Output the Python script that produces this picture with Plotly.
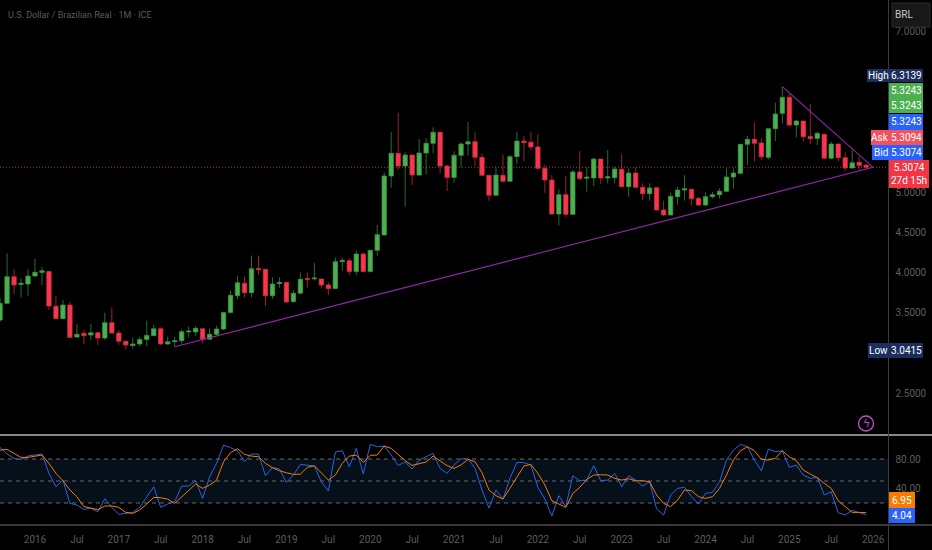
import plotly.graph_objects as go

W, H = 932, 550
AXIS_X = 888.5  # price scale starts here

# --- data. bars are months, 0 = Jan 2016 ---
bar_index = list(range(-5, 120))

opens = [
    3.408, 3.615, 3.947, 3.85, 3.856, 3.955, 4.0, 4.01, 3.58, 3.425, 3.594, 3.196,
    3.242, 3.221, 3.25, 3.184, 3.375, 3.246, 3.143, 3.09, 3.11, 3.167, 3.213, 3.30,
    3.11, 3.138, 3.15, 3.26, 3.26, 3.30, 3.17, 3.23, 3.296, 3.5, 3.71, 3.865,
    3.748, 4.05, 4.038, 3.71, 3.86, 3.875, 3.635, 3.74, 3.925, 3.92, 3.918, 3.843,
    3.80, 4.134, 4.146, 4.01, 4.229, 4.01, 4.275, 4.465, 5.199, 5.481, 5.323, 5.46,
    5.211, 5.485, 5.605, 5.742, 5.323, 5.182, 5.456, 5.597, 5.626, 5.431, 5.207, 4.959,
    5.207, 5.133, 5.44, 5.634, 5.62, 5.56, 5.294, 5.149, 4.726, 4.967, 4.722, 5.249,
    5.17, 5.175, 5.41, 5.174, 5.178, 5.282, 5.066, 5.236, 5.058, 4.979, 5.054, 4.776,
    4.714, 4.942, 5.025, 5.033, 4.92, 4.838, 4.942, 4.967, 5.008, 5.187, 5.232, 5.593,
    5.655, 5.609, 5.431, 5.788, 5.978, 6.177, 5.833, 5.883, 5.69, 5.667, 5.717, 5.42,
    5.597, 5.427, 5.299, 5.37, 5.335,
]
highs = [
    3.677, 4.237, 4.038, 3.926, 4.038, 4.167, 4.07, 4.02, 3.706, 3.657, 3.632, 3.358,
    3.284, 3.358, 3.25, 3.5, 3.565, 3.284, 3.15, 3.19, 3.2, 3.4, 3.346, 3.317,
    3.2, 3.2, 3.29, 3.325, 3.333, 3.30, 3.305, 3.337, 3.51, 3.77, 3.96, 3.947,
    4.21, 4.21, 4.04, 3.94, 3.94, 3.885, 3.78, 4.0, 4.0, 4.12, 3.92, 3.876,
    4.187, 4.18, 4.18, 4.27, 4.25, 4.28, 4.59, 5.245, 5.746, 5.987, 5.493, 5.46,
    5.659, 5.667, 5.804, 5.754, 5.336, 5.506, 5.618, 5.871, 5.742, 5.481, 5.21, 5.307,
    5.468, 5.46, 5.75, 5.696, 5.746, 5.717, 5.34, 5.21, 5.04, 5.203, 5.274, 5.51,
    5.307, 5.42, 5.41, 5.522, 5.315, 5.473, 5.294, 5.307, 5.108, 5.108, 5.054, 4.892,
    4.99, 5.066, 5.211, 5.04, 4.94, 4.996, 5.0, 5.045, 5.294, 5.294, 5.593, 5.696,
    5.866, 5.667, 5.79, 6.11, 6.3139, 6.22, 5.895, 5.883, 6.095, 5.75, 5.717, 5.626,
    5.6, 5.493, 5.522, 5.44, 5.345,
]
lows = [
    3.387, 3.61, 3.731, 3.69, 3.71, 3.95, 3.843, 3.532, 3.42, 3.42, 3.19, 3.19,
    3.11, 3.16, 3.097, 3.16, 3.24, 3.10, 3.0415, 3.055, 3.076, 3.085, 3.21, 3.10,
    3.10, 3.076, 3.118, 3.19, 3.21, 3.118, 3.16, 3.21, 3.28, 3.49, 3.665, 3.69,
    3.69, 3.964, 3.582, 3.673, 3.81, 3.628, 3.63, 3.73, 3.81, 3.9, 3.80, 3.72,
    3.795, 4.02, 3.968, 3.968, 4.0, 4.0, 4.208, 4.46, 5.054, 5.274, 4.818, 5.087,
    5.2, 5.22, 5.481, 5.232, 5.012, 5.116, 5.307, 5.452, 5.323, 5.2, 4.892, 4.955,
    5.116, 5.13, 5.348, 5.386, 5.52, 5.28, 4.99, 4.72, 4.58, 4.69, 4.72, 5.15,
    5.004, 5.075, 5.10, 5.108, 5.108, 5.06, 4.942, 5.05, 4.9, 4.892, 4.77, 4.705,
    4.71, 4.842, 4.892, 4.83, 4.826, 4.83, 4.92, 4.92, 5.0, 5.04, 5.224, 5.336,
    5.377, 5.4, 5.406, 5.634, 5.854, 5.812, 5.68, 5.626, 5.597, 5.585, 5.415, 5.406,
    5.38, 5.26, 5.29, 5.27, 5.29,
]
closes = [
    3.615, 3.947, 3.843, 3.865, 3.955, 4.001, 4.02, 3.582, 3.425, 3.594, 3.192, 3.23,
    3.213, 3.25, 3.184, 3.375, 3.246, 3.143, 3.097, 3.11, 3.167, 3.217, 3.30, 3.11,
    3.138, 3.15, 3.263, 3.27, 3.305, 3.17, 3.23, 3.296, 3.50, 3.715, 3.872, 3.748,
    4.046, 4.034, 3.71, 3.856, 3.876, 3.632, 3.74, 3.914, 3.915, 3.93, 3.843, 3.80,
    4.134, 4.15, 4.01, 4.229, 4.01, 4.275, 4.47, 5.199, 5.481, 5.323, 5.46, 5.211,
    5.485, 5.605, 5.742, 5.323, 5.182, 5.456, 5.597, 5.626, 5.431, 5.207, 4.959, 5.211,
    5.133, 5.44, 5.634, 5.614, 5.56, 5.294, 5.149, 4.726, 4.967, 4.722, 5.249, 5.166,
    5.185, 5.41, 5.174, 5.19, 5.286, 5.066, 5.236, 5.058, 4.979, 5.05, 4.776, 4.714,
    4.946, 5.025, 5.04, 4.917, 4.838, 4.942, 4.967, 5.008, 5.187, 5.236, 5.593, 5.655,
    5.605, 5.44, 5.788, 5.97, 6.177, 5.833, 5.883, 5.688, 5.663, 5.73, 5.42, 5.597,
    5.427, 5.299, 5.365, 5.33, 5.3074,
]

stoch_k = [
    95.9, 86.8, 80.9, 79.5, 84.1, 85.9, 86.8, 60.4, 42.2, 51.3, 19.5, 17.2,
    11.3, 12.7, 8.1, 25.9, 14.1, 4.5, 5.9, 7.2, 14.1, 28.6, 42.2, 14.1,
    18.6, 21.8, 43.1, 43.1, 50.4, 26.3, 55.9, 74.0, 99.0, 95.4, 91.3, 76.3,
    86.8, 86.8, 57.2, 68.6, 66.3, 48.1, 58.1, 72.7, 71.8, 70.4, 49.0, 36.3,
    89.5, 91.3, 69.5, 94.5, 59.5, 100, 96.8, 97.7, 85.4, 71.3, 75.9, 66.3,
    78.6, 83.1, 87.7, 67.2, 60.4, 71.8, 80.4, 80.0, 67.2, 37.7, 13.1, 37.7,
    25.4, 53.6, 75.4, 75.0, 71.8, 41.3, 25.4, 2.2, 30.0, 15.0, 57.2, 50.4,
    51.3, 70.9, 50.4, 51.3, 60.4, 42.2, 57.2, 51.3, 43.1, 49.0, 11.8, 3.6,
    30.9, 40.0, 41.3, 28.6, 18.6, 33.1, 34.5, 49.0, 78.6, 92.2, 100, 96.8,
    78.6, 64.0, 93.6, 90.0, 91.3, 68.6, 71.8, 58.1, 53.6, 54.9, 30.9, 35.4,
    6.8, 3.6, 10.0, 6.8, 4.04,
]
stoch_d = [
    92.2, 93.1, 87.7, 82.2, 82.2, 84.0, 85.4, 74.0, 60.4, 50.4, 37.7, 28.6,
    15.0, 13.1, 10.9, 15.9, 15.9, 14.1, 7.2, 5.9, 10.4, 18.6, 27.7, 27.2,
    25.4, 19.5, 28.6, 37.7, 45.9, 40.0, 44.5, 51.3, 76.3, 88.6, 94.0, 86.3,
    84.0, 83.1, 74.0, 68.1, 64.0, 61.3, 59.0, 59.5, 68.6, 70.9, 61.3, 51.3,
    58.1, 74.0, 84.0, 85.4, 75.4, 85.0, 85.4, 97.7, 94.5, 85.4, 77.7, 71.3,
    74.0, 75.9, 84.0, 77.7, 70.9, 67.2, 71.8, 79.5, 76.3, 61.3, 37.7, 30.0,
    25.4, 40.0, 55.9, 70.4, 72.7, 60.4, 44.5, 23.1, 18.6, 14.1, 33.1, 41.3,
    52.2, 58.1, 58.6, 58.1, 53.6, 51.3, 53.1, 50.4, 50.4, 49.0, 30.9, 19.5,
    15.0, 24.0, 37.7, 36.8, 28.6, 26.3, 28.6, 40.0, 58.1, 78.6, 91.3, 96.8,
    91.3, 79.5, 78.6, 80.9, 91.3, 83.1, 77.7, 65.0, 59.5, 54.5, 46.8, 40.0,
    23.1, 15.0, 7.2, 7.2, 6.95,
]

# trendlines drawn on the chart
support_x = [20, 120]
support_y = [3.076, 5.307]
resistance_x = [107, 120]
resistance_y = [6.31, 5.307]

last_price = 5.3074

time_ticks = [0, 6, 12, 18, 24, 30, 36, 42, 48, 54, 60, 66, 72, 78, 84, 90, 96, 102, 108, 114, 120]
time_labels = ["2016", "Jul", "2017", "Jul", "2018", "Jul", "2019", "Jul", "2020", "Jul", "2021",
               "Jul", "2022", "Jul", "2023", "Jul", "2024", "Jul", "2025", "Jul", "2026"]
price_ticks = [2.5, 3.5, 4.0, 4.5, 5.0, 7.0]
stoch_ticks = [40, 80]

FONT = "Roboto"
GRAY = "#5e5e5e"
GREEN = "#4caf50"
RED = "#f7374f"
BLUE = "#2962ff"
NAVY = "#1b2f5e"
ORANGE = "#f57c00"
PURPLE = "#9127a6"


def px(x):
    return x / W


def py(y):
    return 1 - y / H


fig = go.Figure()

# --- candles ---
fig.add_trace(go.Candlestick(
    x=bar_index, open=opens, high=highs, low=lows, close=closes,
    increasing=dict(line=dict(color="#3f9a44", width=0.7), fillcolor=GREEN),
    decreasing=dict(line=dict(color="#d8323f", width=0.7), fillcolor=RED),
    whiskerwidth=0,
    showlegend=False,
    xaxis="x", yaxis="y",
))

# --- trendlines ---
for tx, ty in ((support_x, support_y), (resistance_x, resistance_y)):
    fig.add_trace(go.Scatter(
        x=tx, y=ty, mode="lines",
        line=dict(color=PURPLE, width=1.1),
        showlegend=False, hoverinfo="skip",
        xaxis="x", yaxis="y",
    ))

# --- stochastic pane ---
fig.add_trace(go.Scatter(
    x=bar_index, y=stoch_k, mode="lines", line=dict(color="#2f63e0", width=1),
    showlegend=False, xaxis="x2", yaxis="y2",
))
fig.add_trace(go.Scatter(
    x=bar_index, y=stoch_d, mode="lines", line=dict(color=ORANGE, width=1),
    showlegend=False, xaxis="x2", yaxis="y2",
))

shapes = [
    # stochastic band and levels
    dict(type="rect", xref="paper", yref="y2", x0=0, x1=px(AXIS_X), y0=20, y1=80,
         fillcolor="#05101a", line_width=0, layer="below"),
    # last price line
    dict(type="line", xref="paper", yref="y", x0=0, x1=px(AXIS_X), y0=last_price, y1=last_price,
         line=dict(color="#a03a45", width=1, dash="1px,2px"), layer="below"),
    # pane separators
    dict(type="line", xref="paper", yref="paper", x0=0, x1=1, y0=py(435), y1=py(435),
         line=dict(color="#b4b4b4", width=1.6)),
    dict(type="line", xref="paper", yref="paper", x0=0, x1=1, y0=py(525), y1=py(525),
         line=dict(color="#4d4d4d", width=1.6)),
    dict(type="line", xref="paper", yref="paper", x0=px(AXIS_X), x1=px(AXIS_X), y0=0, y1=1,
         line=dict(color="#3c3c3c", width=1)),
    # BRL button
    dict(type="rect", xref="paper", yref="paper", x0=px(892), x1=px(930), y0=py(27), y1=py(3),
         fillcolor="#181818", line=dict(color="#2a2a2a", width=1)),
    # lightning badge
    dict(type="circle", xref="paper", yref="paper", x0=px(858.5), x1=px(873.5), y0=py(431), y1=py(416),
         line=dict(color="#c050c8", width=1.3)),
]
for level in (20, 50, 80):
    shapes.append(dict(type="line", xref="paper", yref="y2", x0=0, x1=px(AXIS_X), y0=level, y1=level,
                       line=dict(color="#6a6a6a", width=1, dash="4px,4px"), layer="below"))

annotations = [
    dict(xref="paper", yref="paper", x=px(6), y=py(15), xanchor="left", yanchor="middle",
         text="U.S. Dollar / Brazilian Real · 1M · ICE", showarrow=False,
         font=dict(family=FONT, size=9, color="#5c5c5c")),
    dict(xref="paper", yref="paper", x=px(904), y=py(15), xanchor="center", yanchor="middle",
         text="BRL", showarrow=False, font=dict(family=FONT, size=10, color="#c8c8c8")),
    dict(xref="paper", yref="paper", x=px(866), y=py(423.5), xanchor="center", yanchor="middle",
         text="ϟ", showarrow=False, font=dict(family="DejaVu Sans", size=11, color="#c050c8")),
]


def add_label(x0, y0, x1, y1, text, bg, color="#ffffff", size=10):
    shapes.append(dict(type="rect", xref="paper", yref="paper", x0=px(x0), x1=px(x1), y0=py(y1), y1=py(y0),
                       fillcolor=bg, line_width=0))
    annotations.append(dict(xref="paper", yref="paper", x=px((x0 + x1) / 2), y=py((y0 + y1) / 2),
                            xanchor="center", yanchor="middle", text=text, showarrow=False,
                            font=dict(family=FONT, size=size, color=color)))


# --- price scale labels ---
add_label(867, 69, 889, 82, "High", NAVY)
add_label(889, 69, 923, 82, "6.3139", NAVY)
add_label(889, 83, 923, 98, "5.3243", GREEN)
add_label(889, 98, 923, 113, "5.3243", GREEN)
add_label(889, 114, 923, 130, "5.3243", BLUE)
add_label(871, 130, 889, 145, "Ask", "#f2525f")
add_label(889, 130, 923, 145, "5.3094", "#f2525f")
add_label(872, 145, 889, 160, "Bid", BLUE)
add_label(889, 145, 923, 160, "5.3074", BLUE)
add_label(889, 160, 929, 188, "5.3074<br>27d 15h", "#f23645")
add_label(868, 343, 889, 358, "Low", NAVY)
add_label(889, 343, 923, 358, "3.0415", NAVY)
add_label(889, 492, 915, 508, "6.95", "#f57c00")
add_label(889, 508, 915, 523, "4.04", BLUE)

fig.update_layout(
    width=W, height=H,
    autosize=False,
    paper_bgcolor="black",
    plot_bgcolor="black",
    margin=dict(t=0, b=0, l=0, r=0),
    showlegend=False,
    boxgap=0.1,
    shapes=shapes,
    annotations=annotations,
    xaxis=dict(
        domain=[0, px(AXIS_X)], range=[-5.01, 122.2], anchor="y",
        rangeslider=dict(visible=False), showgrid=False, zeroline=False,
        showticklabels=False, ticks="",
    ),
    yaxis=dict(
        domain=[py(435), 1], range=[1.978, 7.388], side="right", anchor="x",
        showgrid=False, zeroline=False, tickmode="array", tickvals=price_ticks,
        tickformat=".4f", ticks="outside", ticklen=4, tickcolor="black",
        tickfont=dict(family=FONT, size=10, color=GRAY),
    ),
    xaxis2=dict(
        domain=[0, px(AXIS_X)], range=[-5.01, 122.2], anchor="y2",
        showgrid=False, zeroline=False, tickmode="array",
        tickvals=time_ticks, ticktext=time_labels,
        ticks="outside", ticklen=5, tickcolor="black",
        tickfont=dict(family=FONT, size=10, color=GRAY),
    ),
    yaxis2=dict(
        domain=[py(525), py(436)], range=[-10, 111.4], side="right", anchor="x2",
        showgrid=False, zeroline=False, tickmode="array", tickvals=stoch_ticks,
        tickformat=".2f", ticks="outside", ticklen=4, tickcolor="black",
        tickfont=dict(family=FONT, size=10, color=GRAY),
    ),
)

# body has a default margin, the chart fills the window edge to edge
fig.write_html("out.html", config=dict(displayModeBar=False),
               post_script="document.body.style.margin='0';")
